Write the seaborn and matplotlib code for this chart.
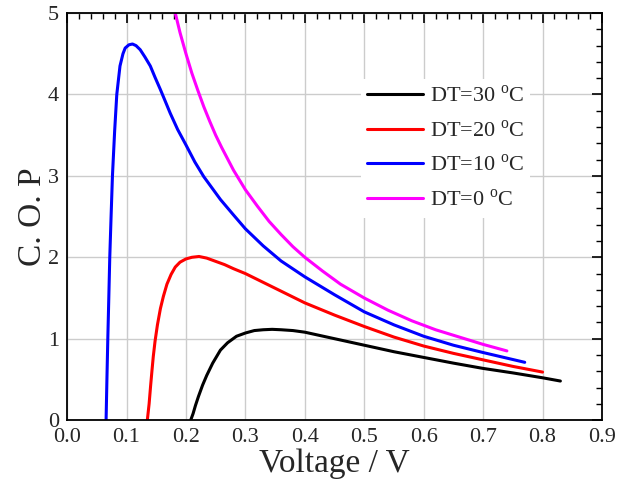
import pandas as pd
import matplotlib
matplotlib.use("Agg")
import matplotlib.pyplot as plt
import seaborn as sns
from matplotlib.ticker import MultipleLocator

# values
v_30 = [0.208, 0.212, 0.216, 0.221, 0.228, 0.235, 0.245, 0.258, 0.27, 0.285, 0.30, 0.315, 0.33, 0.345,
        0.36, 0.38, 0.40, 0.45, 0.50, 0.55, 0.60, 0.65, 0.70, 0.75, 0.80, 0.83]
cop_30 = [0.0, 0.08, 0.18, 0.29, 0.43, 0.55, 0.70, 0.86, 0.95, 1.03, 1.07, 1.10, 1.11, 1.115,
          1.11, 1.10, 1.08, 1.00, 0.92, 0.84, 0.77, 0.70, 0.635, 0.58, 0.52, 0.48]

v_20 = [0.135, 0.138, 0.1405, 0.1427, 0.145, 0.148, 0.152, 0.157, 0.162, 0.168, 0.175, 0.182, 0.19, 0.20,
        0.21, 0.222, 0.235, 0.25, 0.265, 0.28, 0.30, 0.325, 0.35, 0.375, 0.40, 0.45, 0.50, 0.55, 0.60,
        0.65, 0.70, 0.75, 0.80]
cop_20 = [0.0, 0.2, 0.42, 0.6, 0.78, 0.97, 1.17, 1.37, 1.52, 1.67, 1.79, 1.88, 1.94, 1.98,
          2.0, 2.01, 1.99, 1.95, 1.91, 1.86, 1.80, 1.71, 1.62, 1.53, 1.44, 1.29, 1.15, 1.02, 0.91,
          0.82, 0.74, 0.66, 0.59]

v_10 = [0.0656, 0.067, 0.0685, 0.070, 0.0718, 0.074, 0.0763, 0.080, 0.0836, 0.089, 0.094, 0.0977, 0.104,
        0.110, 0.116, 0.123, 0.131, 0.140, 0.148, 0.157, 0.165, 0.1735, 0.186, 0.200, 0.215, 0.230,
        0.244, 0.258, 0.28, 0.30, 0.33, 0.36, 0.40, 0.45, 0.50, 0.55, 0.60, 0.65, 0.70, 0.735, 0.77]
cop_10 = [0.0, 0.5, 1.0, 1.45, 2.0, 2.5, 3.0, 3.55, 4.0, 4.35, 4.50, 4.57, 4.61,
          4.62, 4.60, 4.55, 4.46, 4.35, 4.21, 4.06, 3.92, 3.77, 3.57, 3.38, 3.17, 2.99,
          2.85, 2.71, 2.52, 2.35, 2.14, 1.955, 1.76, 1.54, 1.33, 1.17, 1.03, 0.92, 0.83, 0.77, 0.71]

v_0 = [0.182, 0.19, 0.20, 0.21, 0.22, 0.23, 0.24, 0.25, 0.26, 0.28, 0.30, 0.32, 0.34, 0.36, 0.38,
       0.40, 0.43, 0.46, 0.50, 0.54, 0.58, 0.62, 0.66, 0.70, 0.74]
cop_0 = [5.0, 4.76, 4.50, 4.26, 4.05, 3.85, 3.67, 3.50, 3.35, 3.07, 2.83, 2.63, 2.44, 2.28, 2.13,
         2.00, 1.83, 1.67, 1.50, 1.35, 1.22, 1.11, 1.02, 0.93, 0.85]

labels = ["DT=30 $^{\\rm o}$C", "DT=20 $^{\\rm o}$C", "DT=10 $^{\\rm o}$C", "DT=0 $^{\\rm o}$C"]
colors = ["black", "red", "blue", "magenta"]

frames = []
for lab, vv, cc in zip(labels, [v_30, v_20, v_10, v_0], [cop_30, cop_20, cop_10, cop_0]):
    frames.append(pd.DataFrame({"Voltage": vv, "COP": cc, "DT": lab}))
df = pd.concat(frames, ignore_index=True)

sns.set_style("white")
plt.rcParams["font.family"] = ["Liberation Serif", "DejaVu Serif"]
plt.rcParams["mathtext.fontset"] = "custom"
plt.rcParams["mathtext.rm"] = "Liberation Serif"
plt.rcParams["lines.solid_joinstyle"] = "round"

fig = plt.figure(figsize=(6.33, 4.84), dpi=100)
ax = fig.add_axes([0.106, 0.132, 0.845, 0.841])

sns.lineplot(data=df, x="Voltage", y="COP", hue="DT", hue_order=labels,
             palette=dict(zip(labels, colors)), sort=False, estimator=None,
             linewidth=2.2, ax=ax)

ax.set_xlim(0, 0.9)
ax.set_ylim(0, 5)
ax.xaxis.set_major_locator(MultipleLocator(0.1))
ax.xaxis.set_minor_locator(MultipleLocator(0.02))
ax.yaxis.set_major_locator(MultipleLocator(1))
ax.yaxis.set_minor_locator(MultipleLocator(0.2))
ax.set_xticklabels([f"{t:.1f}" for t in ax.get_xticks()])
ax.grid(True, which="major", color="#cccccc", linewidth=1)
ax.tick_params(which="both", direction="in", top=True, right=True, labelsize=16, color="black")
ax.tick_params(which="major", length=7, width=1.2)
ax.tick_params(which="minor", length=4, width=1.0)
ax.tick_params(axis="x", pad=6)
ax.tick_params(axis="y", pad=6)
for s in ax.spines.values():
    s.set_color("black")
    s.set_linewidth(1.3)

ax.set_xlabel("Voltage / V", fontsize=24, labelpad=1)
ax.set_ylabel("C. O. P", fontsize=24, labelpad=0)

handles, _ = ax.get_legend_handles_labels()
leg = ax.legend(handles, labels, loc="upper right", bbox_to_anchor=(0.887, 0.866),
                fontsize=16, frameon=True, facecolor="white", edgecolor="none",
                framealpha=1, fancybox=False, handlelength=2.5, labelspacing=0.6,
                handletextpad=0.3, borderpad=0.3)
for ln in leg.get_lines():
    ln.set_linewidth(2.2)

fig.savefig("out.png", dpi=100)
